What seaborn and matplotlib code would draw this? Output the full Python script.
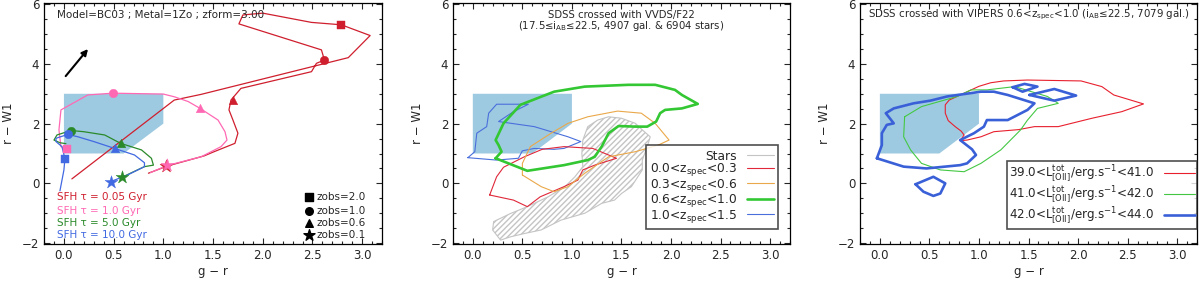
import numpy as np
import pandas as pd
import seaborn as sns
import matplotlib.pyplot as plt
from matplotlib.ticker import MultipleLocator

# selection box in (g-r, r-W1)
box_gr = [0.0, 0.0, 1.0, 1.0, 0.6]
box_rw1 = [1.0, 3.0, 3.0, 2.0, 1.0]

# panel 1: BC03 tracks
tau005_gr = [0.08, 1.11, 1.38, 2.86, 3.08, 2.79, 2.49, 2.00, 1.80, 1.76, 2.59, 2.62, 2.54, 2.49,
             1.78, 1.68, 1.66, 1.70, 1.75, 1.72, 1.51, 1.41, 1.04, 0.85]
tau005_rw1 = [0.15, 2.79, 2.98, 4.21, 4.95, 5.31, 5.39, 5.70, 5.64, 5.34, 4.47, 4.13, 4.02, 3.74,
              3.18, 2.79, 2.46, 2.12, 1.68, 1.34, 1.06, 0.92, 0.58, 0.34]
tau1_gr = [0.87, 1.04, 1.38, 1.58, 1.64, 1.62, 1.55, 1.37, 1.25, 1.11, 1.00, 0.49, 0.24, -0.03,
           -0.05, -0.03, 0.03]
tau1_rw1 = [0.36, 0.60, 0.89, 1.23, 1.45, 1.73, 2.12, 2.51, 2.74, 2.90, 2.99, 3.02, 2.96, 2.46,
            1.79, 1.23, 1.15]
tau5_gr = [0.58, 0.81, 0.90, 0.88, 0.78, 0.57, 0.41, 0.20, 0.07, -0.07, -0.10, -0.04, 0.02]
tau5_rw1 = [0.20, 0.56, 0.61, 0.84, 1.12, 1.34, 1.62, 1.73, 1.77, 1.62, 1.45, 1.36, 1.33]
tau10_gr = [0.47, 0.64, 0.81, 0.81, 0.71, 0.51, 0.30, 0.14, 0.04, -0.08, -0.08, -0.02, 0.01,
            0.00, -0.04]
tau10_rw1 = [0.06, 0.28, 0.56, 0.69, 0.95, 1.17, 1.40, 1.56, 1.64, 1.51, 1.40, 1.23, 0.83,
             0.45, -0.25]

# zobs markers (order: 2.0, 1.0, 0.6, 0.1)
tau005_mk_gr = [2.79, 2.62, 1.70, 1.03]
tau005_mk_rw1 = [5.31, 4.13, 2.79, 0.58]
tau1_mk_gr = [0.03, 0.49, 1.37, 1.04]
tau1_mk_rw1 = [1.15, 3.02, 2.51, 0.60]
tau5_mk_gr = [None, 0.07, 0.57, 0.58]
tau5_mk_rw1 = [None, 1.77, 1.34, 0.20]
tau10_mk_gr = [0.01, 0.04, 0.51, 0.47]
tau10_mk_rw1 = [0.83, 1.64, 1.17, 0.06]
zobs_labels = ["zobs=2.0", "zobs=1.0", "zobs=0.6", "zobs=0.1"]
zobs_markers = ["s", "o", "^", "*"]
tau_labels = ["SFH \u03c4 = 0.05 Gyr", "SFH \u03c4 = 1.0 Gyr", "SFH \u03c4 = 5.0 Gyr", "SFH \u03c4 = 10.0 Gyr"]

# panel 2: VVDS/F22 contours
stars_gr = [0.28, 0.20, 0.21, 0.38, 0.55, 0.76, 0.93, 1.03, 1.11, 1.10, 1.11, 1.16, 1.26, 1.37,
            1.50, 1.64, 1.71, 1.79, 1.76, 1.71, 1.71, 1.60, 1.50, 1.43, 1.30, 1.13, 0.89, 0.69,
            0.52, 0.38]
stars_rw1 = [-1.90, -1.56, -1.28, -1.01, -0.78, -0.45, -0.11, 0.22, 0.56, 1.00, 1.45, 1.90, 2.12,
             2.23, 2.18, 2.01, 1.79, 1.56, 1.23, 0.78, 0.45, -0.11, -0.34, -0.56, -0.67, -1.00,
             -1.23, -1.56, -1.68, -1.79]
z03_gr = [0.17, 0.24, 0.31, 0.52, 0.70, 0.92, 1.21, 1.45, 1.23, 1.11, 1.06, 0.92, 0.68, 0.55,
          0.41]
z03_rw1 = [-0.39, 0.22, 0.54, 0.89, 1.14, 1.23, 1.17, 0.84, 0.61, 0.45, 0.11, -0.11, -0.45, -0.78,
           -0.56]
z06_gr = [0.50, 0.50, 0.58, 0.79, 0.96, 1.16, 1.46, 1.70, 1.84, 1.98, 1.87, 1.64, 1.37, 1.13,
          0.96, 0.82, 0.69]
z06_rw1 = [0.28, 0.67, 1.23, 1.68, 2.01, 2.23, 2.42, 2.35, 2.01, 1.45, 1.28, 1.06, 0.89, 0.34,
           -0.11, -0.28, -0.11]
z10_gr = [0.23, 0.29, 0.26, 0.23, 0.31, 0.48, 0.82, 1.13, 1.57, 1.84, 2.04, 2.11, 2.27, 2.11,
          1.94, 1.89, 1.85, 1.76, 1.64, 1.47, 1.37, 1.30, 1.23, 1.16, 0.92, 0.55]
z10_rw1 = [0.84, 1.06, 1.28, 1.45, 2.01, 2.63, 3.07, 3.24, 3.30, 3.30, 3.13, 2.96, 2.66, 2.51,
           2.46, 2.35, 2.07, 1.90, 1.90, 1.92, 1.68, 1.23, 0.89, 0.78, 0.61, 0.42]
z15_gr = [-0.05, 0.02, 0.04, 0.14, 0.16, 0.24, 0.56, 0.41, 0.26, 0.62, 0.96, 1.09, 0.92, 0.82,
          0.62, 0.50, 0.46, 0.24]
z15_rw1 = [0.86, 1.06, 1.68, 1.90, 2.35, 2.65, 2.65, 2.40, 2.07, 1.90, 1.56, 1.40, 1.17, 1.14,
           1.17, 1.09, 0.84, 0.78]

# panel 3: VIPERS [OII] luminosity contours
l41_gr = [0.81, 0.85, 0.82, 0.76, 0.69, 0.66, 0.66, 0.70, 0.85, 1.00, 1.12, 1.25, 1.49, 2.03,
          2.24, 2.36, 2.66, 2.44, 2.14, 1.80, 1.56, 1.40, 1.15, 1.02, 0.88]
l41_rw1 = [1.43, 1.62, 1.75, 1.90, 2.10, 2.35, 2.63, 2.79, 3.02, 3.25, 3.37, 3.43, 3.46, 3.43,
           3.24, 2.96, 2.66, 2.40, 2.18, 1.90, 1.90, 1.80, 1.73, 1.56, 1.45]
l42_gr = [0.25, 0.24, 0.31, 0.42, 0.61, 0.85, 1.02, 1.22, 1.42, 1.49, 1.59, 1.80, 1.69, 1.36,
          1.08, 0.92, 0.78, 0.42, 0.31]
l42_rw1 = [2.23, 1.56, 1.12, 0.67, 0.45, 0.39, 0.67, 1.12, 1.79, 2.12, 2.51, 2.68, 2.91, 3.24,
           3.13, 3.13, 2.91, 2.57, 2.35]
l44_gr = [-0.03, 0.02, 0.02, 0.07, 0.14, 0.06, 0.14, 0.34, 0.51, 0.68, 1.02, 1.15, 1.29, 1.56,
          1.49, 1.29, 1.08, 1.05, 0.95, 0.81, 0.93, 0.97, 0.88, 0.81, 0.47, 0.24]
l44_rw1 = [0.84, 1.28, 1.68, 1.96, 2.01, 2.35, 2.51, 2.68, 2.77, 2.91, 3.07, 3.07, 2.96, 2.68,
           2.46, 2.12, 2.12, 1.90, 1.68, 1.45, 1.14, 0.95, 0.67, 0.61, 0.50, 0.56]
l44b_gr = [0.36, 0.54, 0.66, 0.61, 0.54, 0.44]
l44b_rw1 = [-0.03, 0.22, 0.00, -0.34, -0.42, -0.28]
l44c_gr = [1.34, 1.46, 1.59, 1.44]
l44c_rw1 = [3.22, 3.33, 3.24, 3.07]
l44d_gr = [1.51, 1.76, 1.98, 1.76]
l44d_rw1 = [2.96, 3.16, 2.94, 2.77]

BOX_C = "#9ecae1"
FS = 8.5


def closed(v):
    return list(v) + [v[0]]


def line(ax, xs, ys, color, lw, close=False, label=None):
    if close:
        xs, ys = closed(xs), closed(ys)
    sns.lineplot(x=xs, y=ys, sort=False, estimator=None, color=color, lw=lw, ax=ax,
                 label=label, legend=False)


def style_axes(ax):
    ax.set_xlim(-0.2, 3.2)
    ax.set_ylim(-2.03, 6.04)
    ax.xaxis.set_major_locator(MultipleLocator(0.5))
    ax.xaxis.set_minor_locator(MultipleLocator(0.1))
    ax.yaxis.set_major_locator(MultipleLocator(2))
    ax.yaxis.set_minor_locator(MultipleLocator(0.5))
    ax.set_xticks(np.arange(0, 3.01, 0.5))
    ax.set_xticklabels([f"{v:.1f}" for v in np.arange(0, 3.01, 0.5)])
    ax.tick_params(which="both", direction="in", top=True, right=True, labelsize=FS, width=0.8)
    ax.tick_params(which="major", length=4)
    ax.tick_params(which="minor", length=2)
    for s in ax.spines.values():
        s.set_linewidth(0.9)
        s.set_color("black")
    ax.set_xlabel("g \u2212 r", fontsize=FS, labelpad=2)
    ax.set_ylabel("r \u2212 W1", fontsize=FS, labelpad=5)
    ax.fill(box_gr, box_rw1, color=BOX_C, lw=0, zorder=0)


sns.set_theme(style="ticks")
plt.rcParams["font.family"] = ["DejaVu Sans"]
plt.rcParams["mathtext.fontset"] = "dejavusans"
plt.rcParams["hatch.color"] = "#c4c4c4"

fig = plt.figure(figsize=(12, 2.82), dpi=100)
bottom, height = 0.1348, 0.8546
ax1 = fig.add_axes([0.0367, bottom, 0.2817, height])
ax2 = fig.add_axes([0.3775, bottom, 0.2808, height])
ax3 = fig.add_axes([0.7167, bottom, 0.2808, height])

# ---- panel 1
style_axes(ax1)
tracks = [
    (tau005_gr, tau005_rw1, tau005_mk_gr, tau005_mk_rw1, "#cf1f2e"),
    (tau1_gr, tau1_rw1, tau1_mk_gr, tau1_mk_rw1, "#ff69b4"),
    (tau5_gr, tau5_rw1, tau5_mk_gr, tau5_mk_rw1, "#2a8a2a"),
    (tau10_gr, tau10_rw1, tau10_mk_gr, tau10_mk_rw1, "#4169e1"),
]
for gx, gy, mx, my, c in tracks:
    line(ax1, gx, gy, c, 0.9)
for gx, gy, mx, my, c in tracks:
    for xm, ym, m in zip(mx, my, zobs_markers):
        if xm is None:
            continue
        sns.scatterplot(x=[xm], y=[ym], marker=m, s=95 if m == "*" else 38, color=c,
                        edgecolor=c, linewidth=0.3, ax=ax1, zorder=5, legend=False)

ax1.annotate("", xy=(0.26, 4.57), xytext=(0.0, 3.52),
             arrowprops=dict(arrowstyle="-|>", color="black", lw=1.5, mutation_scale=9))
ax1.text(0.038, 0.95, "Model=BC03 ; Metal=1Zo ; zform=3.00", transform=ax1.transAxes,
         fontsize=7.5, va="center", ha="left")
tau_y = [0.194, 0.138, 0.088, 0.037]
for lab, yy, (_, _, _, _, c) in zip(tau_labels, tau_y, tracks):
    ax1.text(0.038, yy, lab, color=c, fontsize=7.5, transform=ax1.transAxes, va="center")
for lab, yy, m in zip(zobs_labels, tau_y, zobs_markers):
    ax1.scatter([0.785], [yy], marker=m, s=70 if m == "*" else 30, color="black",
                transform=ax1.transAxes, clip_on=False)
    ax1.text(0.805, yy, lab, fontsize=7.5, transform=ax1.transAxes, va="center")

# ---- panel 2
style_axes(ax2)
ax2.fill(stars_gr, stars_rw1, facecolor="none", edgecolor="#c4c4c4", hatch="//////",
         lw=0.8, zorder=1)
line(ax2, z15_gr, z15_rw1, "#4a6fdc", 0.8, close=True)
line(ax2, z03_gr, z03_rw1, "#e0283a", 0.8, close=True)
line(ax2, z06_gr, z06_rw1, "#eaa84a", 0.8, close=True)
line(ax2, z10_gr, z10_rw1, "#33c733", 1.9, close=True)
h2 = [plt.Line2D([], [], color="#c4c4c4", lw=0.8),
      plt.Line2D([], [], color="#e0283a", lw=0.8),
      plt.Line2D([], [], color="#eaa84a", lw=0.8),
      plt.Line2D([], [], color="#33c733", lw=1.9),
      plt.Line2D([], [], color="#4a6fdc", lw=0.8)]
l2 = ["Stars", "0.0<z$_{\\rm spec}$<0.3", "0.3<z$_{\\rm spec}$<0.6",
      "0.6<z$_{\\rm spec}$<1.0", "1.0<z$_{\\rm spec}$<1.5"]
leg = ax2.legend(h2, l2, loc="lower right", bbox_to_anchor=(0.965, 0.062), borderaxespad=0,
                 markerfirst=False, fontsize=FS + 0.3, frameon=True, fancybox=False,
                 labelspacing=-0.12, handlelength=2.2, handletextpad=0.8, borderpad=0.35)
leg._legend_box.align = "right"
leg.get_frame().set_edgecolor("#222222")
leg.get_frame().set_linewidth(1.2)
ax2.text(0.5, 0.95, "SDSS crossed with VVDS/F22", transform=ax2.transAxes, ha="center",
         va="center", fontsize=7.3)
ax2.text(0.5, 0.905, "(17.5\u2264i$_{\\rm AB}$\u226422.5, 4907 gal. & 6904 stars)",
         transform=ax2.transAxes, ha="center", va="center", fontsize=7.3)

# ---- panel 3
style_axes(ax3)
line(ax3, l41_gr, l41_rw1, "#e8202e", 0.8, close=True)
line(ax3, l42_gr, l42_rw1, "#44c844", 0.8, close=True)
for gx, gy in [(l44_gr, l44_rw1), (l44b_gr, l44b_rw1), (l44c_gr, l44c_rw1), (l44d_gr, l44d_rw1)]:
    line(ax3, gx, gy, "#3a60d8", 1.9, close=True)
h3 = [plt.Line2D([], [], color="#e8202e", lw=0.8),
      plt.Line2D([], [], color="#44c844", lw=0.8),
      plt.Line2D([], [], color="#3a60d8", lw=1.9)]
lum = "L$^{\\rm tot}_{\\rm [OII]}$/erg.s$^{-1}$"
l3 = [f"39.0<{lum}<41.0", f"41.0<{lum}<42.0", f"42.0<{lum}<44.0"]
leg3 = ax3.legend(h3, l3, loc="lower right", bbox_to_anchor=(1.0, 0.062), borderaxespad=0,
                  markerfirst=False, fontsize=8.6, frameon=True, fancybox=False,
                  labelspacing=0.0, handlelength=2.6, handletextpad=0.8, borderpad=0.2)
leg3.get_frame().set_edgecolor("#222222")
leg3.get_frame().set_linewidth(1.2)
ax3.text(0.5, 0.95, "SDSS crossed with VIPERS 0.6<z$_{\\rm spec}$<1.0 (i$_{\\rm AB}$\u226422.5, 7079 gal.)",
         transform=ax3.transAxes, ha="center", va="center", fontsize=7.4)

fig.savefig("out.png", dpi=100)
